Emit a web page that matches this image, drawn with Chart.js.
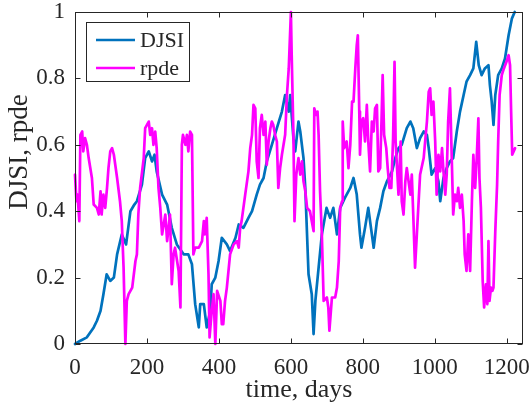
<!DOCTYPE html>
<html>
<head>
<meta charset="utf-8">
<script src="https://cdn.jsdelivr.net/npm/chart.js@4.4.1/dist/chart.umd.min.js"></script>
<style>
  html, body { margin: 0; padding: 0; background: #fff; }
  #chart { display: block; }
</style>
</head>
<body>
<canvas id="chart" width="532" height="418"></canvas>
<script>
// ----- data -----
const djsiDays = [0,15,33,52,61,71,79,88,98,108,117,130,142,154,165,172,186,195,205,214,221,227,242,256,269,283,302,315,325,334,344,348,358,366,376,380,390,399,408,422,431,446,455,468,482,492,505,514,524,533,547,561,575,584,594,598,607,612,621,626,635,640,649,658,663,668,677,686,699,709,718,728,737,750,765,774,783,792,796,806,815,825,830,839,848,857,867,881,890,899,908,922,932,940,950,959,969,978,983,991,1001,1010,1015,1024,1033,1042,1051,1061,1070,1080,1088,1098,1107,1115,1122,1130,1139,1149,1153,1158,1163,1168,1176,1186,1195,1205,1214,1222];
const djsiVals = [0,0.01,0.02,0.05,0.07,0.10,0.15,0.21,0.19,0.20,0.27,0.33,0.30,0.40,0.42,0.43,0.48,0.56,0.58,0.55,0.57,0.52,0.45,0.42,0.35,0.30,0.27,0.27,0.24,0.12,0.05,0.12,0.12,0.05,0.10,0.18,0.20,0.25,0.32,0.30,0.28,0.32,0.36,0.35,0.38,0.40,0.45,0.48,0.50,0.55,0.60,0.65,0.70,0.75,0.70,0.75,0.62,0.58,0.67,0.64,0.56,0.47,0.21,0.15,0.03,0.13,0.23,0.33,0.41,0.38,0.41,0.33,0.41,0.44,0.47,0.50,0.45,0.33,0.29,0.35,0.41,0.33,0.29,0.37,0.41,0.46,0.49,0.52,0.56,0.59,0.60,0.65,0.67,0.65,0.59,0.62,0.64,0.63,0.59,0.51,0.53,0.49,0.43,0.50,0.53,0.55,0.56,0.64,0.70,0.75,0.79,0.81,0.83,0.91,0.84,0.81,0.83,0.84,0.78,0.73,0.66,0.75,0.81,0.83,0.86,0.93,0.98,1.0];

const rpdeDays = [0,4,7,12,15,20,23,28,33,38,47,52,61,66,71,74,79,84,89,93,98,103,108,117,125,130,135,140,144,149,159,168,172,176,181,191,195,200,205,209,214,218,223,227,232,237,242,251,256,264,269,274,278,288,293,297,300,307,311,315,320,325,329,334,344,353,358,361,366,371,374,380,385,390,395,404,408,412,417,422,431,441,450,455,459,463,473,482,487,492,496,501,505,510,514,519,524,529,533,538,543,547,551,556,561,565,570,575,584,589,594,600,602,607,610,615,621,626,631,635,640,645,653,658,663,665,670,674,677,681,686,691,700,704,707,714,723,728,733,737,742,744,748,755,760,765,770,774,779,783,786,790,792,796,801,806,811,815,820,825,830,834,839,843,848,852,855,859,865,869,874,879,884,888,891,899,905,908,913,918,922,932,936,940,945,950,959,969,978,983,987,991,996,1001,1005,1010,1015,1020,1024,1029,1033,1037,1042,1047,1051,1056,1061,1065,1070,1075,1080,1083,1088,1093,1098,1103,1107,1112,1116,1121,1124,1128,1133,1137,1142,1146,1149,1152,1156,1160,1163,1168,1173,1176,1180,1186,1192,1199,1205,1209,1212,1215,1223];
const rpdeVals = [0.51,0.43,0.45,0.37,0.63,0.64,0.58,0.62,0.60,0.56,0.50,0.42,0.41,0.39,0.46,0.39,0.45,0.41,0.47,0.53,0.58,0.59,0.57,0.50,0.43,0.37,0.23,0.0,0.13,0.15,0.17,0.25,0.27,0.39,0.47,0.56,0.65,0.66,0.67,0.63,0.65,0.60,0.64,0.59,0.47,0.41,0.33,0.39,0.31,0.39,0.18,0.27,0.29,0.22,0.11,0.60,0.63,0.60,0.63,0.58,0.64,0.63,0.27,0.29,0.29,0.31,0.37,0.33,0.38,0.21,0.02,0.10,0.15,0.0,0.16,0.13,0.06,0.06,0.13,0.17,0.27,0.30,0.31,0.29,0.35,0.37,0.45,0.52,0.59,0.63,0.72,0.71,0.55,0.50,0.65,0.69,0.63,0.67,0.54,0.61,0.65,0.67,0.66,0.63,0.61,0.47,0.53,0.57,0.63,0.75,0.83,1.0,0.88,0.63,0.37,0.51,0.56,0.51,0.55,0.49,0.46,0.41,0.40,0.37,0.34,0.71,0.69,0.70,0.63,0.46,0.33,0.13,0.14,0.11,0.04,0.14,0.14,0.17,0.25,0.41,0.43,0.67,0.59,0.61,0.53,0.60,0.73,0.73,0.83,0.90,0.93,0.70,0.57,0.67,0.68,0.61,0.72,0.61,0.52,0.67,0.64,0.71,0.72,0.52,0.53,0.68,0.81,0.63,0.59,0.53,0.47,0.47,0.62,0.85,0.61,0.45,0.61,0.43,0.39,0.49,0.53,0.45,0.51,0.39,0.23,0.33,0.51,0.56,0.67,0.76,0.77,0.69,0.73,0.61,0.45,0.57,0.52,0.59,0.52,0.45,0.51,0.67,0.77,0.56,0.39,0.45,0.43,0.47,0.41,0.45,0.37,0.27,0.22,0.33,0.22,0.43,0.57,0.47,0.55,0.68,0.50,0.41,0.19,0.11,0.18,0.12,0.31,0.13,0.17,0.16,0.17,0.34,0.48,0.61,0.75,0.81,0.83,0.85,0.87,0.84,0.70,0.57,0.59];

const xTicks = [0, 200, 400, 600, 800, 1000, 1200];
const yTicks = [0, 0.2, 0.4, 0.6, 0.8, 1];
const xMax = 1245;

const seriesNames = ['DJSI', 'rpde'];
const seriesColors = ['#0072BD', '#FF00FF'];

const SERIF = '"Liberation Serif", "Times New Roman", serif';
const INK = '#262626';

const toPoints = (xs, ys) => xs.map((x, i) => ({ x, y: ys[i] }));

// ----- box, inward ticks, legend and axis titles (MATLAB look) -----
const matlabAxes = {
  id: 'matlabAxes',
  afterDatasetsDraw(chart) {
    const { ctx, chartArea: a, scales } = chart;
    const L = Math.round(a.left) + 0.5, R = Math.round(a.right) - 0.5;
    const T = Math.round(a.top) + 0.5, B = Math.round(a.bottom) - 0.5;
    ctx.save();
    ctx.strokeStyle = INK;
    ctx.lineWidth = 1;
    ctx.strokeRect(L, T, R - L, B - T);
    ctx.beginPath();
    xTicks.forEach(v => {
      const px = Math.round(scales.x.getPixelForValue(v)) + 0.5;
      ctx.moveTo(px, B); ctx.lineTo(px, B - 5);
      ctx.moveTo(px, T); ctx.lineTo(px, T + 5);
    });
    yTicks.forEach(v => {
      const py = Math.round(scales.y.getPixelForValue(v)) + 0.5;
      ctx.moveTo(L, py); ctx.lineTo(L + 5, py);
      ctx.moveTo(R, py); ctx.lineTo(R - 5, py);
    });
    ctx.stroke();

    // legend
    ctx.fillStyle = '#fff';
    ctx.fillRect(86.5, 22.5, 103, 59);
    ctx.strokeRect(86.5, 22.5, 103, 59);
    ctx.font = '22px ' + SERIF;
    ctx.textBaseline = 'middle';
    ctx.textAlign = 'left';
    seriesNames.forEach((name, i) => {
      const y = 40 + i * 28;
      ctx.strokeStyle = seriesColors[i];
      ctx.lineWidth = 2.5;
      ctx.beginPath(); ctx.moveTo(96, y); ctx.lineTo(135, y); ctx.stroke();
      ctx.fillStyle = INK;
      ctx.fillText(name, 140, y + 1);
    });

    // axis titles
    ctx.fillStyle = INK;
    ctx.textAlign = 'center';
    ctx.textBaseline = 'alphabetic';
    ctx.font = '26px ' + SERIF;
    ctx.fillText('time, days', (a.left + a.right) / 2, 397);
    ctx.translate(27, 152);
    ctx.rotate(-Math.PI / 2);
    ctx.font = '27px ' + SERIF;
    ctx.fillText('DJSI, rpde', 0, 0);
    ctx.restore();
  }
};

new Chart(document.getElementById('chart'), {
  type: 'line',
  data: {
    datasets: [
      { label: seriesNames[0], data: toPoints(djsiDays, djsiVals), borderColor: seriesColors[0], order: 1 },
      { label: seriesNames[1], data: toPoints(rpdeDays, rpdeVals), borderColor: seriesColors[1], order: 0 }
    ]
  },
  options: {
    responsive: false,
    devicePixelRatio: 1,
    animation: false,
    parsing: false,
    layout: { padding: { top: 12, right: 9, left: 0, bottom: 0 } },
    elements: {
      line: { borderWidth: 2.7, tension: 0, borderJoinStyle: 'round', borderCapStyle: 'round' },
      point: { radius: 0 }
    },
    datasets: { line: { clip: 3 } },
    plugins: { legend: { display: false }, tooltip: { enabled: false } },
    scales: {
      x: {
        type: 'linear', min: 0, max: xMax,
        afterBuildTicks: s => { s.ticks = xTicks.map(value => ({ value })); },
        afterFit: s => { s.height = 74; s.paddingLeft = 0; s.paddingRight = 0; },
        grid: { display: false, drawTicks: false },
        border: { display: false },
        ticks: { font: { family: SERIF, size: 23 }, color: INK, padding: 10, maxRotation: 0, autoSkip: false, callback: v => String(v) }
      },
      y: {
        type: 'linear', min: 0, max: 1,
        afterBuildTicks: s => { s.ticks = yTicks.map(value => ({ value })); },
        afterFit: s => { s.width = 75; s.paddingTop = 0; s.paddingBottom = 0; },
        grid: { display: false, drawTicks: false },
        border: { display: false },
        ticks: { font: { family: SERIF, size: 23 }, color: INK, padding: 10, autoSkip: false, callback: v => String(v) }
      }
    }
  },
  plugins: [matlabAxes]
});
</script>
</body>
</html>
